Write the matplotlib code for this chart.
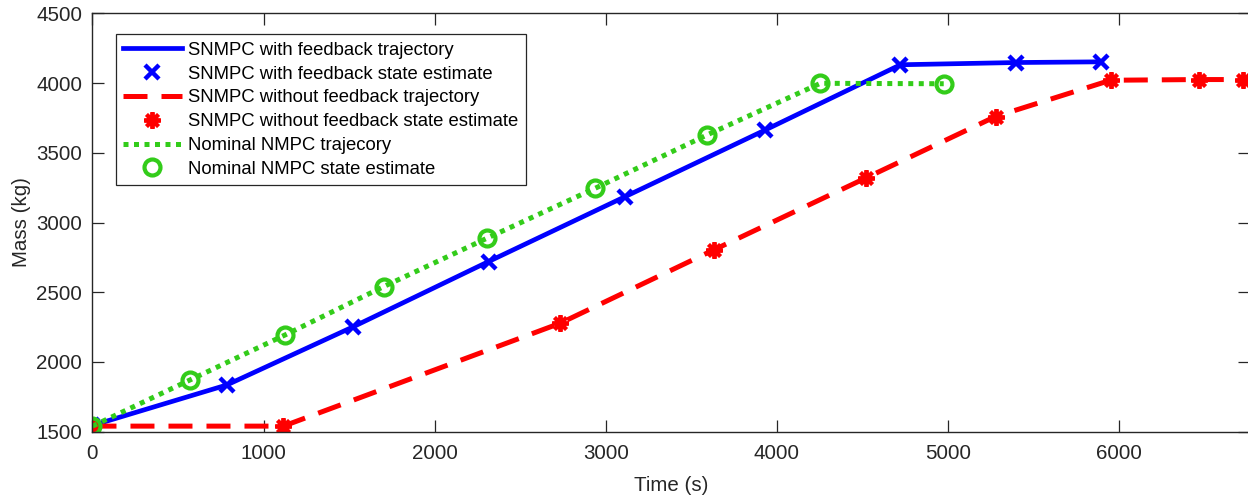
import matplotlib
matplotlib.use("Agg")
import matplotlib.pyplot as plt

# time (s) and mass (kg) for each controller
t_fb = [0, 785, 1525, 2315, 3114, 3933, 4722, 5395, 5892]
m_fb = [1545, 1835, 2253, 2720, 3186, 3664, 4131, 4147, 4152]

t_nofb = [0, 1116, 2734, 3630, 4518, 5278, 5950, 6465, 6722]
m_nofb = [1540, 1540, 2278, 2803, 3318, 3760, 4020, 4025, 4025]

t_nom = [0, 570, 1126, 1701, 2305, 2939, 3592, 4254, 4975]
m_nom = [1540, 1871, 2194, 2540, 2887, 3246, 3628, 3998, 3995]

x_ticks = [0, 1000, 2000, 3000, 4000, 5000, 6000]
y_ticks = [1500, 2000, 2500, 3000, 3500, 4000, 4500]

plt.rcParams['font.family'] = ['Liberation Sans', 'DejaVu Sans']
axis_color = (0.15, 0.15, 0.15)
green = (0.2, 0.8, 0.1)

fig = plt.figure(figsize=(12.48, 5.0), dpi=100)
ax = fig.add_axes([0.0741, 0.1366, 0.9275, 0.8368])

ax.plot(t_fb, m_fb, '-', color='b', lw=3.4, label='SNMPC with feedback trajectory')
ax.plot(t_fb, m_fb, 'x', color='b', ms=10.5, mew=3.2, label='SNMPC with feedback state estimate')
ax.plot(t_nofb, m_nofb, color='r', lw=3.6, linestyle=(0, (4.8, 2.8)),
        label='SNMPC without feedback trajectory')
ax.plot(t_nofb, m_nofb, linestyle='none', marker=(8, 2, 0), color='r', ms=12, mew=2.8,
        label='SNMPC without feedback state estimate')
ax.plot(t_nom, m_nom, color=green, lw=3.6, linestyle=(0, (1, 1.1)),
        label='Nominal NMPC trajecory')
ax.plot(t_nom, m_nom, 'o', color=green, mfc='none', ms=11.5, mew=3,
        label='Nominal NMPC state estimate')

ax.set_xlim(0, 6765)
ax.set_ylim(1500, 4500)
ax.set_xticks(x_ticks)
ax.set_yticks(y_ticks)
ax.tick_params(direction='in', length=8.5, width=0.9, top=True, right=True,
               labelsize=14.8, colors=axis_color)
ax.tick_params(axis='x', pad=9)
ax.tick_params(axis='y', pad=7.5)
for s in ax.spines.values():
    s.set_color(axis_color)
    s.set_linewidth(1.0)

ax.set_xlabel('Time (s)', fontsize=14.8, color=axis_color, labelpad=9)
ax.set_ylabel('Mass (kg)', fontsize=14.8, color=axis_color, labelpad=4)

leg = ax.legend(loc='upper left', bbox_to_anchor=(0.0203, 0.9498), borderaxespad=0,
                fontsize=13.3, handlelength=3.15, handletextpad=0.35, labelspacing=0.37,
                borderpad=0.4, fancybox=False, framealpha=1, edgecolor=axis_color)
leg.get_frame().set_linewidth(0.9)
for txt in leg.get_texts():
    txt.set_color('black')

fig.savefig('out.png', dpi=100)
